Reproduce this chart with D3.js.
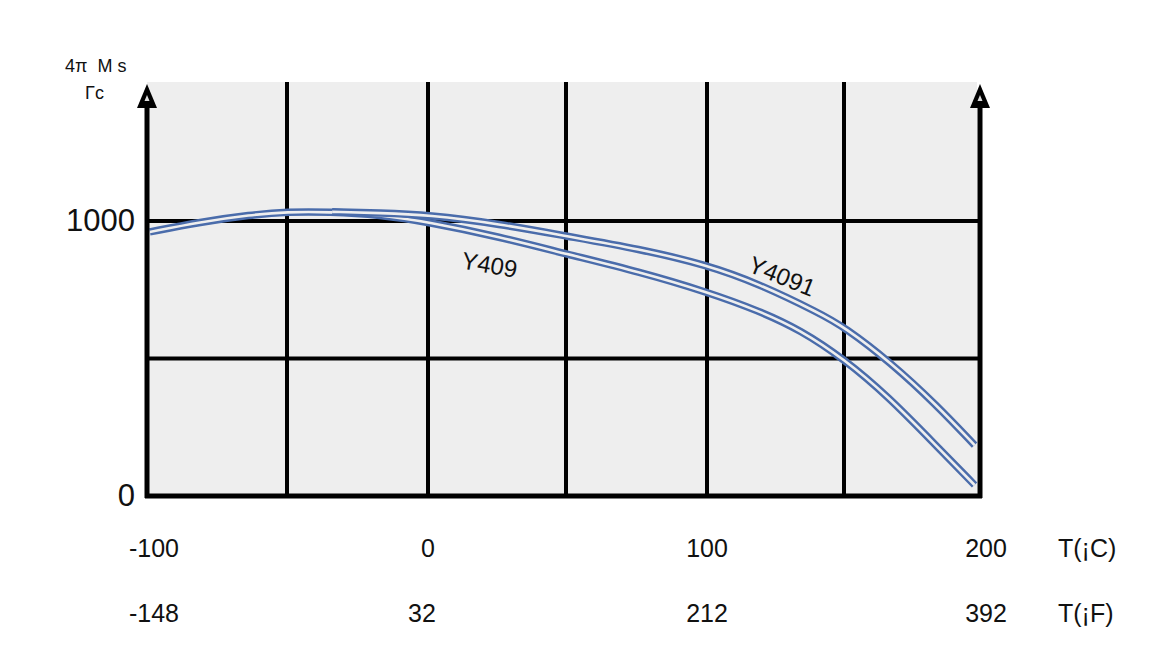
<!DOCTYPE html>
<html>
<head>
<meta charset="utf-8">
<script src="https://cdn.jsdelivr.net/npm/d3@7"></script>
<style>
  html, body { margin: 0; padding: 0; background: #ffffff; }
  svg { display: block; }
  text { font-family: "Liberation Sans", Arial, sans-serif; fill: #111; }
</style>
</head>
<body>
<svg id="chart" width="1153" height="654"></svg>
<script>
// ---------- data ----------
const tempC_Y409   = [-99, -81, -63, -50, -35, -17, 0, 26, 50, 76, 100, 119, 134, 150, 166, 184, 198];
const ms_Y409      = [960, 996, 1022, 1033, 1033, 1022, 996, 942, 880, 815, 742, 673, 604, 498, 364, 182, 40];
const tempC_Y4091  = [-34, -17, 0, 26, 50, 76, 100, 119, 141, 150, 167, 184, 198];
const ms_Y4091     = [1033, 1029, 1022, 989, 945, 898, 840, 771, 665, 615, 487, 331, 185];
const xGridC       = [-50, 0, 50, 100, 150];
const yGrid        = [500, 1000];
const xTicksC      = [-100, 0, 100, 200];
const xTicksF      = ["-148", "32", "212", "392"];
const yTicks       = [0, 1000];
const seriesNames  = ["Y409", "Y4091"];

// ---------- layout ----------
const svg = d3.select("#chart");
const x = d3.scaleLinear()
  .domain([-100, -50, 0, 50, 100, 150, 200])
  .range([147, 287, 428, 566, 707, 844, 980]);
const y = d3.scaleLinear().domain([0, 1505]).range([496, 82]);
const blue = "#4a6cab", bg = "#eeeeee";

// plot background
svg.append("rect")
  .attr("x", x(-100)).attr("y", y(1505))
  .attr("width", x(200) - x(-100) - 3).attr("height", y(0) - y(1505))
  .attr("fill", bg);

// vertical grid lines
svg.selectAll(".vg").data(xGridC).enter().append("line")
  .attr("x1", d => x(d)).attr("x2", d => x(d))
  .attr("y1", y(1505)).attr("y2", y(0))
  .attr("stroke", "#000").attr("stroke-width", 4);

// horizontal grid lines
svg.selectAll(".hg").data(yGrid).enter().append("line")
  .attr("x1", x(-100)).attr("x2", x(200))
  .attr("y1", d => y(d)).attr("y2", d => y(d))
  .attr("stroke", "#000").attr("stroke-width", 4);

// curves (double line)
const line = d3.line().x(d => x(d[0])).y(d => y(d[1])).curve(d3.curveBasis);
const curves = [
  d3.zip(tempC_Y409, ms_Y409),
  d3.zip(tempC_Y4091, ms_Y4091)
];
curves.forEach(c => {
  svg.append("path").attr("d", line(c)).attr("fill", "none")
    .attr("stroke", blue).attr("stroke-width", 7.5);
  svg.append("path").attr("d", line(c)).attr("fill", "none")
    .attr("stroke", bg).attr("stroke-width", 2.6);
});

// axes: bottom, left, right
svg.append("line").attr("x1", x(-100) - 2).attr("x2", x(200) + 2)
  .attr("y1", y(0)).attr("y2", y(0)).attr("stroke", "#000").attr("stroke-width", 5);
[-100, 200].forEach(t => {
  svg.append("line").attr("x1", x(t)).attr("x2", x(t))
    .attr("y1", y(0) + 2).attr("y2", 100).attr("stroke", "#000").attr("stroke-width", 5);
  const cx = x(t);
  svg.append("path")
    .attr("d", `M${cx},84 L${cx + 10},108 L${cx - 10},108 Z`)
    .attr("fill", "#000");
  svg.append("path")
    .attr("d", `M${cx},95 L${cx + 2.5},101 L${cx - 2.5},101 Z`)
    .attr("fill", "#ddd");
});

// y tick labels
svg.selectAll(".yt").data(yTicks).enter().append("text")
  .attr("x", 135).attr("y", d => y(d) + 10)
  .attr("text-anchor", "end").attr("font-size", 31)
  .text(d => d);

// x tick labels (C and F)
const off = t => (t === -100 ? 7 : t === 200 ? 6 : 0);
svg.selectAll(".xc").data(xTicksC).enter().append("text")
  .attr("x", d => x(d) + off(d)).attr("y", 557)
  .attr("text-anchor", "middle").attr("font-size", 25)
  .text(d => d);
svg.selectAll(".xf").data(xTicksF).enter().append("text")
  .attr("x", (d, i) => x(xTicksC[i]) + off(xTicksC[i]) + (i === 1 ? -6 : 0)).attr("y", 622)
  .attr("text-anchor", "middle").attr("font-size", 25)
  .text(d => d);

// axis titles
svg.append("text").attr("x", 1058).attr("y", 557).attr("font-size", 25).text("T(¡C)");
svg.append("text").attr("x", 1058).attr("y", 622).attr("font-size", 25).text("T(¡F)");
svg.append("text").attr("x", 65).attr("y", 72).attr("font-size", 18)
  .style("white-space", "pre").text("4π  M s");
svg.append("text").attr("x", 85).attr("y", 99).attr("font-size", 18).text("Γc");

// series labels
svg.append("text").attr("font-size", 24).attr("text-anchor", "middle")
  .attr("transform", "translate(488,273) rotate(10)").text(seriesNames[0]);
svg.append("text").attr("font-size", 24).attr("text-anchor", "middle")
  .attr("transform", "translate(779,284) rotate(22)").text(seriesNames[1]);
</script>
</body>
</html>
